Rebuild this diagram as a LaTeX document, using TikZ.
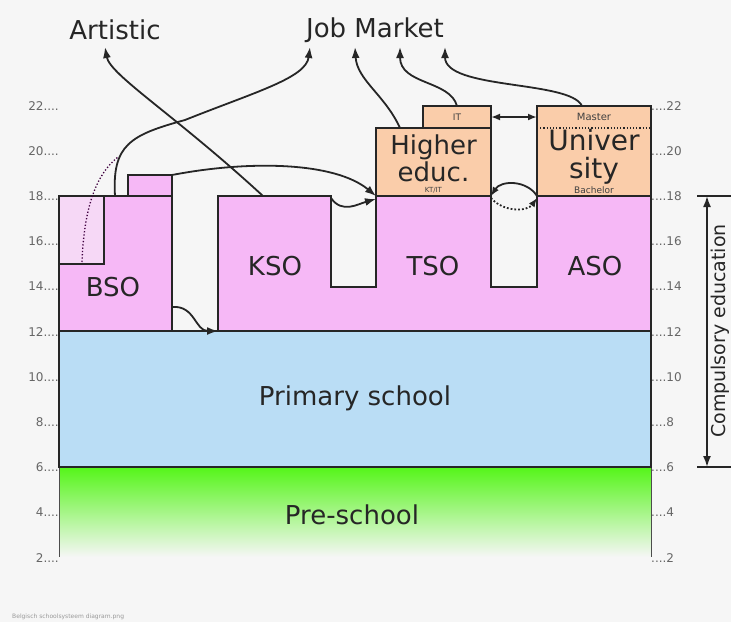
\documentclass[tikz,border=0pt]{standalone}
\usepackage{fontspec}
\setmainfont{DejaVu Sans}
\usetikzlibrary{arrows.meta, positioning, calc}
\definecolor{bgcol}{RGB}{246,246,246}
\definecolor{secpink}{RGB}{246,184,246}
\definecolor{lightpink}{RGB}{246,216,246}
\definecolor{primblue}{RGB}{186,221,245}
\definecolor{preschgreen}{RGB}{85,245,25}
\definecolor{higherpeach}{RGB}{250,205,170}

\begin{document}
\begin{tikzpicture}[x=1pt, y=-1pt,
    big/.style={font=\fontsize{26}{27}\selectfont, text=black!85, inner sep=0pt, align=center},
    small/.style={font=\fontsize{9}{10}\selectfont, text=black!75, inner sep=0pt},
    tick/.style={font=\fontsize{12}{13}\selectfont, text=black!60, inner sep=1pt},
    block/.style={draw=black!85, line width=1.5pt},
    hbox/.style={block, fill=higherpeach, inner sep=0pt, outer sep=0pt},
    route/.style={black!85, line width=1.8pt, -{Latex[length=11pt,width=8pt]}}]

    % Canvas (731 x 622, y grows downwards)
    \useasboundingbox (0,0) rectangle (731,622);
    \fill[bgcol] (0,0) rectangle (731,622);

    % Age ticks: one year = 22.6 units, age 18 at y=196
    \foreach \a in {2,4,...,22} {
      \pgfmathsetmacro{\yy}{196+(18-\a)*22.6}
      \node[tick, anchor=east] (left\a) at (60,\yy) {\a....};
      \node[tick, anchor=west] (right\a) at (650,\yy) {....\a};
    }

    % Pre-school (fading green)
    \shade[top color=preschgreen, bottom color=bgcol] (59,467) rectangle (651,557);
    \draw[black!70, line width=1pt] (59,467) -- (59,557);
    \draw[black!70, line width=1pt] (651,467) -- (651,557);

    % Primary school
    \draw[block, fill=primblue] (59,331) rectangle (651,467);

    % Secondary: BSO block, its extra years and the KSO/TSO/ASO block
    \draw[block, fill=secpink] (59,196) rectangle (172,331);
    \draw[block, fill=lightpink] (59,196) rectangle (104,264);
    \draw[block, fill=secpink] (128,175) rectangle (172,196);
    \draw[block, fill=secpink]
      (218,331) -- (218,196) -- (331,196) -- (331,287) -- (376,287) -- (376,196)
      -- (491,196) -- (491,287) -- (537,287) -- (537,196) -- (651,196) -- (651,331) -- cycle;

    % Higher education and university
    \node[hbox, minimum width=68pt, minimum height=22pt] (it) at (457,117) {};
    \node[hbox, minimum width=115pt, minimum height=68pt] (higher) at (433.5,162) {};
    \node[hbox, minimum width=114pt, minimum height=90pt] (univ) at (594,151) {};
    \draw[black!85, line width=1.2pt, dotted] (univ.west |- 0,128) -- (univ.east |- 0,128);

    \node[small] (ittxt) at (it.center) {IT};
    \node[big] (highertxt) at ([yshift=4pt]higher.center) {Higher\\educ.};
    \node[small, font=\fontsize{7}{8}\selectfont] (kttxt) at ([yshift=6pt]higher.south) {KT/IT};
    \node[small, font=\fontsize{10}{11}\selectfont] (master) at (594,117) {Master};
    \node[big, font=\fontsize{28}{28}\selectfont] (univtxt) at (594,157) {Univer\\sity};
    \node[small] (bachelor) at ([yshift=6pt]univ.south) {Bachelor};

    % Section labels
    \node[big] (bso) at (113,287) {BSO};
    \node[big] (kso) at (275,266) {KSO};
    \node[big] (tso) at (433,266) {TSO};
    \node[big] (aso) at (595,266) {ASO};
    \node[big] (primary) at (355,398) {Primary school};
    \node[big] (preschool) at (352,515) {Pre-school};

    % Destinations
    \node[big] (artistic) at (115,30) {Artistic};
    \node[big] (job) at (375,30) {Job Market};
    \coordinate (artin) at (105,47);
    \coordinate (jobA) at (310,47);
    \coordinate (jobB) at (355,47);
    \coordinate (jobC) at (400,47);
    \coordinate (jobD) at (445,47);

    % Routes
    \draw[route] (263,196) .. controls (175,115) and (110,75) .. (artin);
    \draw[route] (115,196) .. controls (112,145) and (130,135) .. (185,120)
      .. controls (255,92) and (306,78) .. (jobA);
    \draw[violet!50!black, line width=1.3pt, dotted] (82,262) .. controls (84,210) and (95,175) .. (118,157);
    \draw[route] (172,175) .. controls (250,160) and (335,162) .. (higher.south west);
    \draw[route] (331,198) .. controls (342,214) and (358,204) .. ([yshift=-3pt]higher.south west);
    \draw[route] (172,307) .. controls (195,305) and (195,331) .. (218,331);
    \draw[route] (400,128) .. controls (385,95) and (357,80) .. (jobB);
    \draw[route] (it.north) .. controls (450,80) and (400,85) .. (jobC);
    \draw[route] (582,106) .. controls (570,80) and (445,90) .. (jobD);

    % Transfers between higher education and university
    \draw[route, {Latex[length=9pt,width=7pt]}-{Latex[length=9pt,width=7pt]}] (it.east) -- (univ.west |- it.east);
    \draw[route, -{Latex[length=9pt,width=7pt]}] (univ.south west) .. controls (527,180) and (501,180) .. (higher.south east);
    \draw[route, dotted, -{Latex[length=9pt,width=7pt]}] ([yshift=-2pt]higher.south east) .. controls (503,212) and (527,212) .. ([yshift=-2pt]univ.south west);

    % Compulsory education
    \coordinate (comp18) at (707,196);
    \coordinate (comp6) at (707,467);
    \draw[black!85, line width=1.5pt] (697,196) -- (731,196);
    \draw[black!85, line width=1.5pt] (697,467) -- (731,467);
    \draw[route, {Latex[length=11pt,width=8pt]}-{Latex[length=11pt,width=8pt]}] (comp18) -- (comp6);
    \node[big, font=\fontsize{19}{20}\selectfont, rotate=90] (compulsory) at (720,331) {Compulsory education};

    % File caption
    \node[small, font=\fontsize{6}{7}\selectfont, text=black!40, anchor=west] (caption) at (12,617) {Belgisch schoolsysteem diagram.png};
\end{tikzpicture}
\end{document}
